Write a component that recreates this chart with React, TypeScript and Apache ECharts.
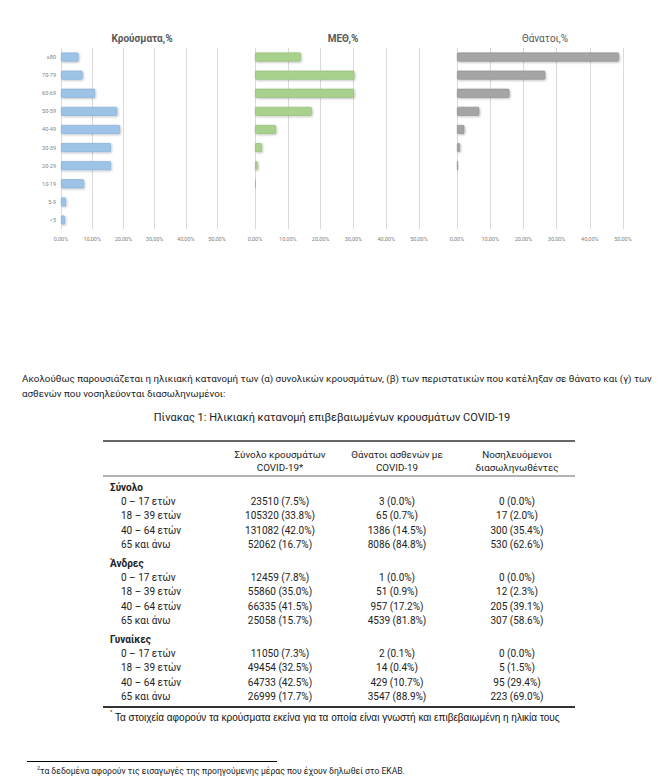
import React, { useEffect, useRef } from "react";
import * as echarts from "echarts";

// ---- Bar chart data (top-to-bottom order) ----
const ageGroups = ["≥80", "70-79", "60-69", "50-59", "40-49", "30-39", "20-29", "10-19", "5-9", "<5"];
const casesShare = [5.6, 6.9, 10.9, 18.0, 18.9, 16.0, 16.0, 7.4, 1.6, 1.3];
const icuShare = [14.0, 30.3, 30.2, 17.3, 6.4, 2.1, 0.8, 0.2, 0.05, 0.05];
const deathsShare = [48.8, 26.6, 15.8, 6.7, 2.2, 0.9, 0.3, 0.1, 0, 0];
const chartTitles = ["Κρούσματα,%", "ΜΕΘ,%", "Θάνατοι,%"];
const axisMax = 50;
const axisStep = 10;

// ---- Text ----
const paragraphLines = [
  "Ακολούθως παρουσιάζεται η ηλικιακή κατανομή των (α) συνολικών κρουσμάτων, (β) των περιστατικών που κατέληξαν σε θάνατο και (γ) των",
  "ασθενών που νοσηλεύονται διασωληνωμένοι:",
];
const tableTitle = "Πίνακας 1: Ηλικιακή κατανομή επιβεβαιωμένων κρουσμάτων COVID-19";
const columnHeaders = [
  ["Σύνολο κρουσμάτων", "COVID-19*"],
  ["Θάνατοι ασθενών με", "COVID-19"],
  ["Νοσηλευόμενοι", "διασωληνωθέντες"],
];
const groupLabels = ["Σύνολο", "Άνδρες", "Γυναίκες"];
const ageLabels = ["0 – 17 ετών", "18 – 39 ετών", "40 – 64 ετών", "65 και άνω"];
const casesCount = [
  [23510, 105320, 131082, 52062],
  [12459, 55860, 66335, 25058],
  [11050, 49454, 64733, 26999],
];
const casesPct = [
  [7.5, 33.8, 42.0, 16.7],
  [7.8, 35.0, 41.5, 15.7],
  [7.3, 32.5, 42.5, 17.7],
];
const deathsCount = [
  [3, 65, 1386, 8086],
  [1, 51, 957, 4539],
  [2, 14, 429, 3547],
];
const deathsPct = [
  [0.0, 0.7, 14.5, 84.8],
  [0.0, 0.9, 17.2, 81.8],
  [0.1, 0.4, 10.7, 88.9],
];
const intubatedCount = [
  [0, 17, 300, 530],
  [0, 12, 205, 307],
  [0, 5, 95, 223],
];
const intubatedPct = [
  [0.0, 2.0, 35.4, 62.6],
  [0.0, 2.3, 39.1, 58.6],
  [0.0, 1.5, 29.4, 69.0],
];
const tableNote = "Τα στοιχεία αφορούν τα κρούσματα εκείνα για τα οποία είναι γνωστή και επιβεβαιωμένη η ηλικία τους";
const pageNote = "τα δεδομένα αφορούν τις εισαγωγές της προηγούμενης μέρας που έχουν δηλωθεί στο ΕΚΑΒ.";

const FONT = "Roboto";

function txt(x: number, y: number, text: string, opts: any = {}) {
  const align = opts.align || "left";
  return {
    type: "text",
    x,
    y,
    silent: true,
    style: {
      text,
      fontSize: opts.fontSize || 10,
      fontFamily: opts.fontFamily || FONT,
      fontWeight: opts.fontWeight || "normal",
      fill: opts.fill || "#222",
      align,
      textAlign: align,
      verticalAlign: "middle",
      textVerticalAlign: "middle",
    },
  };
}

function hline(x1: number, x2: number, y: number, w: number, c: string) {
  return { type: "line", silent: true, shape: { x1, y1: y, x2, y2: y }, style: { stroke: c, lineWidth: w } };
}

export default function App() {
  const ref = useRef<HTMLDivElement>(null);
  useEffect(() => {
    if (!ref.current) return;
    const chart = echarts.init(ref.current, undefined, { renderer: "svg" });

    const grids = [
      { left: 61, top: 48, width: 156, height: 181 },
      { left: 255, top: 48, width: 164, height: 181 },
      { left: 457, top: 48, width: 166, height: 181 },
    ];
    const seriesData = [casesShare, icuShare, deathsShare];
    const fills = ["#9DC3E6", "#A9D18E", "#A5A5A5"];
    const borders = ["#7FA9D6", "#8DBB6E", "#8C8C8C"];

    const xAxes = grids.map((_, i) => ({
      type: "value",
      gridIndex: i,
      min: 0,
      max: axisMax,
      interval: axisStep,
      axisLine: { show: false },
      axisTick: { show: false },
      splitLine: { show: true, lineStyle: { color: "#D9D9D9", width: 1 } },
      axisLabel: {
        fontSize: 5.5,
        color: "#7F7F7F",
        fontFamily: FONT,
        margin: 7,
        formatter: (v: number) => v.toFixed(2).replace(".", ",") + "%",
      },
    }));
    const yAxes = grids.map((_, i) => ({
      type: "category",
      gridIndex: i,
      inverse: true,
      data: ageGroups,
      axisLine: { show: false },
      axisTick: { show: false },
      axisLabel: { show: i === 0, fontSize: 5.5, color: "#7F7F7F", fontFamily: FONT, margin: 5 },
    }));
    const series = seriesData.map((d, i) => ({
      type: "bar",
      xAxisIndex: i,
      yAxisIndex: i,
      data: d,
      barWidth: 9,
      itemStyle: {
        color: fills[i],
        borderColor: borders[i],
        borderWidth: 0.6,
        borderRadius: 1,
        shadowColor: "rgba(0,0,0,0.25)",
        shadowBlur: 2,
        shadowOffsetX: 1,
        shadowOffsetY: 1,
      },
    }));
    const titleX = [137, 338, 540];
    const titles = chartTitles.map((t, i) => ({
      text: t,
      left: titleX[i],
      top: 28,
      textAlign: "center",
      textStyle: {
        fontSize: 10,
        fontFamily: FONT,
        fontWeight: i === 2 ? "normal" : "bold",
        color: "#595959",
      },
    }));

    // ---- Graphics: paragraph, table, footnotes ----
    const g: any[] = [];
    g.push(txt(22, 378, paragraphLines[0], { fontSize: 9.8 }));
    g.push(txt(22, 393, paragraphLines[1], { fontSize: 9.8 }));
    g.push(txt(332, 417, tableTitle, { fontSize: 11, align: "center" }));

    const tLeft = 103;
    const tRight = 575;
    g.push(hline(tLeft, tRight, 441, 1.5, "#333"));
    g.push(hline(tLeft, tRight, 476, 1, "#666"));
    g.push(hline(tLeft, tRight, 707, 2, "#333"));

    const colX = [280, 397, 517];
    columnHeaders.forEach((h, c) => {
      g.push(txt(colX[c], 454, h[0], { fontSize: 9.8, align: "center" }));
      g.push(txt(colX[c], 467, h[1], { fontSize: 9.8, align: "center" }));
    });

    const counts = [casesCount, deathsCount, intubatedCount];
    const pcts = [casesPct, deathsPct, intubatedPct];
    groupLabels.forEach((gl, gi) => {
      const gy = 487 + gi * 76;
      g.push(txt(110, gy, gl, { fontSize: 10, fontWeight: "bold" }));
      ageLabels.forEach((al, r) => {
        const ry = gy + 14 + r * 14.6;
        g.push(txt(121, ry, al, { fontSize: 10 }));
        for (let c = 0; c < 3; c++) {
          const s = `${counts[c][gi][r]} (${pcts[c][gi][r].toFixed(1)}%)`;
          g.push(txt(colX[c], ry, s, { fontSize: 10, align: "center" }));
        }
      });
    });

    g.push(txt(110, 712, "*", { fontSize: 6, fontFamily: "Liberation Sans" }));
    g.push(txt(115, 717, tableNote, { fontSize: 10, fontFamily: "Liberation Sans", fill: "#111" }));

    g.push(hline(27, 277, 761.5, 1, "#000"));
    g.push(txt(37, 768, "2", { fontSize: 5.5 }));
    g.push(txt(40, 771, pageNote, { fontSize: 8.6 }));

    chart.setOption({
      animation: false,
      backgroundColor: "#fff",
      title: titles,
      grid: grids,
      xAxis: xAxes,
      yAxis: yAxes,
      series,
      graphic: { elements: g },
    });
    return () => chart.dispose();
  }, []);
  return (
    <div
      ref={ref}
      style={{ position: "absolute", left: 0, top: 0, width: 660, height: 781, background: "#fff" }}
    />
  );
}
